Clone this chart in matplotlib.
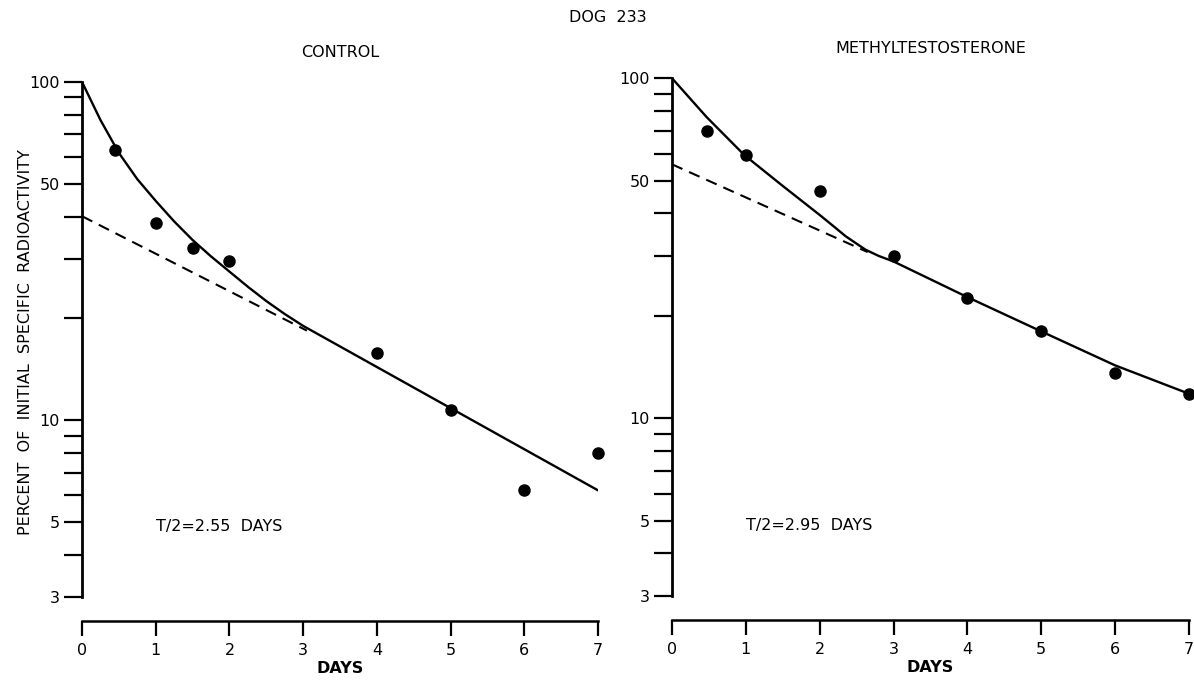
import matplotlib
matplotlib.use("Agg")
import matplotlib.pyplot as plt
from matplotlib.ticker import FixedLocator, NullFormatter

plt.rcParams['font.family'] = ['DejaVu Sans']

# control panel
ctrl_days = [0.45, 1.0, 1.5, 2.0, 4.0, 5.0, 6.0, 7.0]
ctrl_pct = [63.1, 38.3, 32.4, 29.6, 15.8, 10.7, 6.2, 8.0]
ctrl_curve_x = [0, 0.25, 0.5, 0.75, 1.0, 1.25, 1.5, 1.75, 2.0, 2.25, 2.5,
                2.75, 3.0, 7.0]
ctrl_curve_y = [100, 77.2, 61.7, 51.6, 44.5, 38.7, 34.1, 30.5, 27.5, 24.8,
                22.5, 20.6, 19.0, 6.2]
ctrl_dash_x = [0, 3.05]
ctrl_dash_y = [40.1, 18.4]

# methyltestosterone panel
mt_days = [0.47, 1.0, 2.0, 3.0, 4.0, 5.0, 6.0, 7.0]
mt_pct = [69.8, 59.4, 46.5, 29.9, 22.5, 18.0, 13.6, 11.8]
mt_curve_x = [0, 0.47, 0.98, 1.5, 2.0, 2.2, 2.35, 2.5, 2.62, 2.8, 3.0,
              4.0, 5.0, 6.0, 7.0]
mt_curve_y = [100, 76.8, 59.4, 48.2, 39.6, 36.5, 34.3, 32.6, 31.3, 30.0, 28.9,
              22.7, 18.0, 14.3, 11.8]
mt_dash_x = [0, 2.65]
mt_dash_y = [55.8, 30.8]

major_y = [3, 5, 10, 50, 100]
minor_y = [4, 6, 7, 8, 9, 20, 30, 40, 60, 70, 80, 90]
x_ticks = [0, 1, 2, 3, 4, 5, 6, 7]

fig = plt.figure(figsize=(11.94, 6.84), dpi=100)


def panel(rect, days, pct, cx, cy, dx, dy, title, half_text):
    ax = fig.add_axes(rect)
    ax.plot(cx, cy, color='black', lw=1.7, solid_joinstyle='round',
            solid_capstyle='round')
    ax.plot(dx, dy, color='black', lw=1.5, dashes=(5.5, 3.5))
    ax.plot(days, pct, 'o', color='black', ms=8, clip_on=False)
    ax.set_yscale('log')
    ax.set_ylim(3, 100)
    ax.set_xlim(0, 7)
    ax.yaxis.set_major_locator(FixedLocator(major_y))
    ax.yaxis.set_minor_locator(FixedLocator(minor_y))
    ax.set_yticklabels([str(v) for v in major_y])
    ax.yaxis.set_minor_formatter(NullFormatter())
    ax.set_xticks(x_ticks)
    ax.set_xticklabels([str(v) for v in x_ticks])
    for s in ['top', 'right']:
        ax.spines[s].set_visible(False)
    ax.spines['left'].set_linewidth(2.0)
    ax.spines['bottom'].set_linewidth(1.8)
    ax.spines['bottom'].set_position(('outward', 17))
    ax.tick_params(axis='y', which='both', direction='out', length=13,
                   width=1.6, pad=3, labelsize=11.5)
    ax.tick_params(axis='x', direction='out', length=11, width=1.6,
                   pad=5, labelsize=11.5)
    ax.set_xlabel('DAYS', fontsize=11.5, fontweight='bold', labelpad=2)
    ax.text(1.0, 4.85, half_text, fontsize=11.5, ha='left', va='center')
    ax.set_title(title, fontsize=11.5, pad=18)
    ax.patch.set_visible(False)
    return ax


ax1 = panel([0.0687, 0.1272, 0.4322, 0.7529], ctrl_days, ctrl_pct,
            ctrl_curve_x, ctrl_curve_y, ctrl_dash_x, ctrl_dash_y,
            'CONTROL', 'T/2=2.55  DAYS')
ax2 = panel([0.5628, 0.1287, 0.4330, 0.7570], mt_days, mt_pct,
            mt_curve_x, mt_curve_y, mt_dash_x, mt_dash_y,
            'METHYLTESTOSTERONE', 'T/2=2.95  DAYS')

fig.text(0.509, 0.975, 'DOG  233', fontsize=11.5, ha='center', va='center')
fig.text(0.021, 0.5, 'PERCENT  OF  INITIAL  SPECIFIC  RADIOACTIVITY',
         rotation=90, fontsize=11.5, ha='center', va='center')

fig.savefig('out.png', dpi=100)
